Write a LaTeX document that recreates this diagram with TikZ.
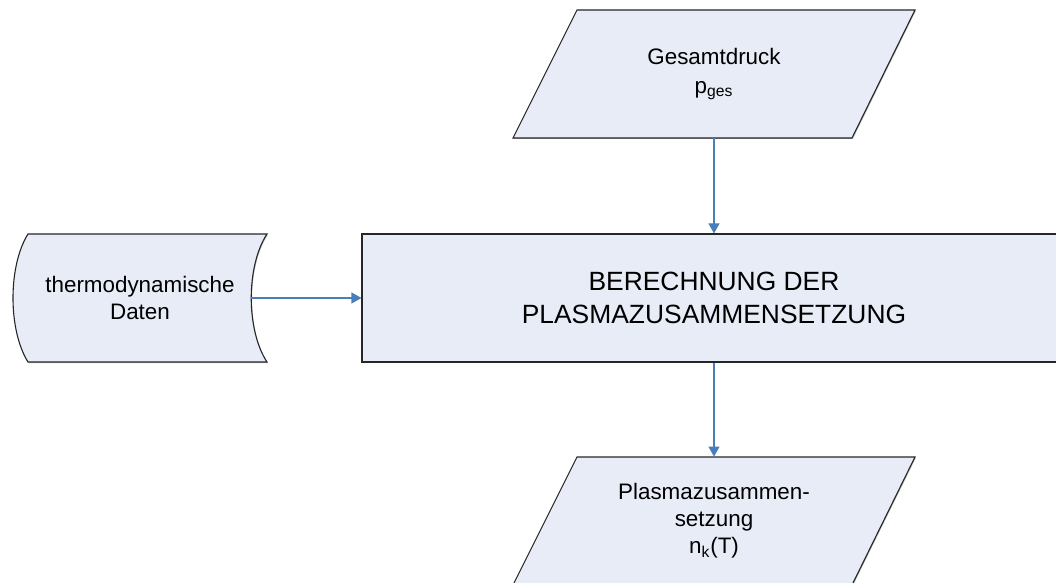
\documentclass[tikz,border=0pt]{standalone}
\usepackage{fontspec}
\setmainfont{Liberation Sans}
\usetikzlibrary{arrows.meta,shadows}
\definecolor{boxfill}{RGB}{231,236,246}
\definecolor{arrowblue}{RGB}{74,126,187}
\begin{document}
\begin{tikzpicture}[x=0.5pt,y=-0.5pt,
  shapeline/.style={draw=black!85,line width=0.55pt,fill=boxfill,
    drop shadow={shadow xshift=0.4pt,shadow yshift=-0.5pt,opacity=0.45,fill=black!60}},
  conn/.style={draw=arrowblue,line width=0.55pt,-{Triangle[length=5pt,width=5.5pt]}},
  smalltext/.style={align=center,font=\fontsize{11.2pt}{13.6pt}\selectfont,inner sep=0pt},
  bigtext/.style={align=center,font=\fontsize{13.2pt}{16.5pt}\selectfont}
]
\useasboundingbox (0,0) rectangle (1056,583);
\clip (0,0) rectangle (1056,583);
% top parallelogram
\path[shapeline] (577,10) -- (915,10) -- (852,138) -- (513,138) -- cycle;
\node[smalltext,minimum width=201pt,minimum height=64pt] (ges) at (714,74)
  {Gesamtdruck\\[1pt]p\textsubscript{ges}};
% main process box
\node[shapeline,bigtext,minimum width=352pt,minimum height=64pt] (calc) at (714,298)
  {BERECHNUNG DER\\PLASMAZUSAMMENSETZUNG};
% stored data shape
\path[shapeline] (28,234) -- (267,234) .. controls (246,266) and (246,330) .. (267,362)
  -- (28,362) .. controls (8,330) and (8,266) .. (28,234) -- cycle;
\node[smalltext] (dat) at (140,298) {thermodynamische\\Daten};
\coordinate (datR) at (251,298);
% bottom parallelogram
\path[shapeline] (577,457) -- (915,457) -- (852,585) -- (513,585) -- cycle;
\node[smalltext,minimum width=201pt,minimum height=64pt] (plas) at (714,521)
  {Plasmazusammen-\\setzung\\n\textsubscript{k}(T)};
% connectors
\draw[conn] (ges.south) -- (ges.south |- calc.north);
\draw[conn] (datR) -- (datR -| calc.west);
\draw[conn] (plas.north |- calc.south) -- (plas.north);
\end{tikzpicture}
\end{document}
